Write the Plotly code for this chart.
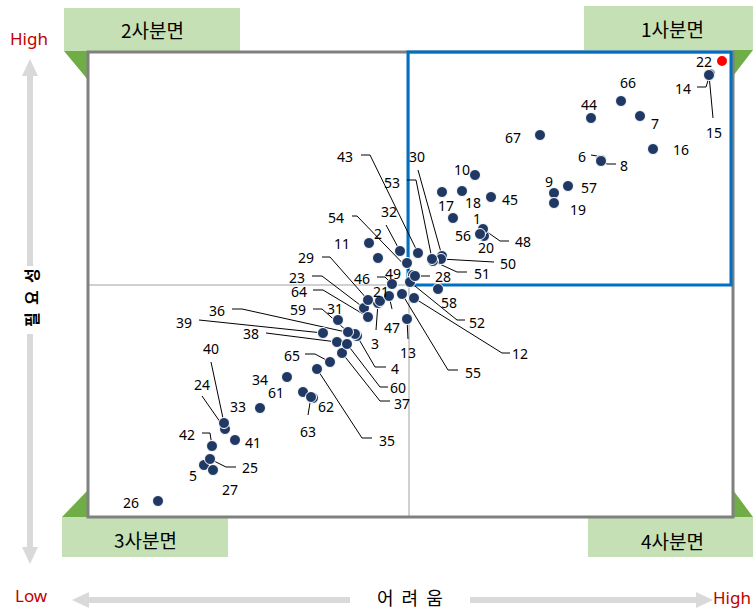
import plotly.graph_objects as go

# ---------------- data ----------------
ids = [str(i) for i in range(1, 68)]
difficulty = [453, 378, 378, 357, 204, 601, 640, 601, 554, 475,
              369, 414, 407, 710, 709, 653, 442, 462, 554, 484,
              380, 722, 364, 225, 210, 158, 213, 413, 368, 442,
              338, 400, 260, 287, 317, 355, 342, 337, 323, 224,
              235, 212, 418, 591, 491, 392, 389, 483, 407, 441,
              433, 410, 432, 415, 402, 480, 568, 438, 348, 347,
              303, 313, 311, 368, 330, 621, 540]
necessity = [392, 352, 307, 274, 145, 450, 494, 449, 417, 435,
             367, 312, 291, 536, 535, 461, 418, 419, 407, 374,
             309, 549, 302, 181, 151, 109, 140, 335, 310, 354,
             290, 359, 202, 233, 241, 276, 257, 268, 277, 187,
             170, 164, 357, 492, 413, 326, 314, 381, 347, 351,
             349, 328, 351, 334, 316, 376, 424, 321, 278, 266,
             218, 212, 213, 293, 248, 509, 475]
highlight_id = "22"
quadrant_names = ["1사분면", "2사분면", "3사분면", "4사분면"]
x_title = ["어", "려", "움"]
y_title = ["필", "요", "성"]

# ---------------- geometry (screen pixels) ----------------
W, H = 753, 610
L, R, T, B = 88, 733, 52, 517
X_MID, Y_MID = 409, 285
Y0 = 610  # data y = Y0 - screen y

def sx(px):
    return (px - L) / (R - L)

def sy(py):
    return (B - py) / (B - T)

label_xy = {
    1: (477, 218), 2: (378, 233), 3: (375, 343), 4: (395, 368), 5: (193, 475),
    6: (582, 156), 7: (655, 123), 8: (624, 165), 9: (549, 181), 10: (462, 169),
    11: (342, 243), 12: (520, 353), 13: (408, 352), 14: (683, 88), 15: (714, 132),
    16: (681, 149), 17: (446, 205), 18: (473, 202), 19: (578, 209), 20: (486, 247),
    21: (381, 291), 22: (704, 61), 23: (297, 277), 24: (202, 384), 25: (250, 467),
    26: (131, 502), 27: (230, 489), 28: (443, 276), 29: (306, 257), 30: (417, 156),
    31: (335, 308), 32: (389, 211), 33: (238, 406), 34: (260, 379), 35: (387, 440),
    36: (217, 310), 37: (402, 403), 38: (251, 333), 39: (184, 322), 40: (211, 348),
    41: (253, 442), 42: (187, 434), 43: (345, 156), 44: (589, 104), 45: (510, 199),
    46: (362, 278), 47: (392, 327), 48: (523, 241), 49: (393, 273), 50: (508, 263),
    51: (482, 273), 52: (477, 322), 53: (392, 182), 54: (336, 217), 55: (473, 372),
    56: (463, 235), 57: (589, 187), 58: (449, 302), 59: (298, 309), 60: (398, 387),
    61: (276, 392), 62: (326, 406), 63: (308, 431), 64: (299, 291), 65: (292, 355),
    66: (628, 82), 67: (513, 137),
}

leaders = {
    3: [(376, 330)], 4: [(386, 367), (375, 367)], 6: [(591, 155), (597, 156)],
    8: [(616, 164), (607, 164)], 12: [(510, 353), (502, 353)], 13: [(408, 339)],
    14: [(697, 87), (706, 87)], 15: [(713, 118)], 23: [(312, 276), (322, 276)],
    24: [(202, 396)], 25: [(236, 467), (226, 467)], 28: [(430, 276), (421, 276)],
    29: [(322, 257), (330, 257)], 30: [(418, 170)], 32: [(386, 225)],
    35: [(372, 438), (362, 438)], 36: [(232, 309), (242, 309)],
    37: [(390, 401), (380, 401)], 38: [(266, 333)], 39: [(199, 320)],
    40: [(211, 362)], 42: [(202, 433), (210, 433)], 43: [(361, 155), (370, 155)],
    46: [(377, 277), (385, 277)], 47: [(392, 309)], 48: [(509, 241), (500, 241)],
    50: [(494, 262)], 51: [(467, 272), (457, 272)], 52: [(465, 320), (457, 320)],
    53: [(407, 180), (416, 180)], 54: [(352, 216), (357, 216)],
    55: [(458, 370), (448, 370)], 59: [(313, 309), (322, 309)],
    60: [(388, 387), (380, 387)], 63: [(308, 415)], 64: [(313, 290), (323, 290)],
    65: [(305, 354), (315, 354)],
}

NAVY = "#1F3864"
GRAY_ARROW = "#D9D9D9"
GREEN_BOX = "#C5E0B4"
GREEN_TRI = "#70AD47"
RED_TXT = "#C00000"
BLUE = "#0070C0"
NUM_FONT = "Noto Sans"
KR_FONT = "Noto Sans CJK KR"

fig = go.Figure()

# leader lines
lx, ly = [], []
for k, verts in leaders.items():
    i = k - 1
    for (px, py) in verts:
        lx.append(px)
        ly.append(Y0 - py)
    lx.append(difficulty[i])
    ly.append(necessity[i])
    lx.append(None)
    ly.append(None)
fig.add_trace(go.Scatter(x=lx, y=ly, mode="lines",
                         line=dict(color="black", width=1),
                         hoverinfo="skip", cliponaxis=False))

# points
colors = ["#FF0000" if s == highlight_id else NAVY for s in ids]
lw = [2 if s == highlight_id else 1 for s in ids]
sizes = [12 if s == highlight_id else 11 for s in ids]
fig.add_trace(go.Scatter(x=difficulty, y=necessity, mode="markers",
                         marker=dict(color=colors, size=sizes, opacity=1,
                                     line=dict(color="white", width=lw)),
                         text=ids, hoverinfo="text", cliponaxis=False))

shapes = []
# green label boxes
boxes = [(584, 6, 753, 50), (64, 8, 240, 51), (62, 517, 228, 557), (588, 517, 753, 557)]
for (x0, y0, x1, y1) in boxes:
    shapes.append(dict(type="rect", xref="paper", yref="paper",
                       x0=sx(x0), x1=sx(x1), y0=sy(y1), y1=sy(y0),
                       fillcolor=GREEN_BOX, line=dict(width=0), layer="below"))

def tri(pts, color):
    d = "M " + " L ".join(f"{sx(a):.5f},{sy(b):.5f}" for a, b in pts) + " Z"
    return dict(type="path", xref="paper", yref="paper", path=d,
                fillcolor=color, line=dict(width=0), layer="below")

shapes += [
    tri([(64, 51), (88, 51), (88, 80)], GREEN_TRI),
    tri([(733, 50), (753, 50), (733, 76)], GREEN_TRI),
    tri([(62, 517), (88, 517), (88, 490)], GREEN_TRI),
    tri([(733, 517), (753, 517), (733, 490)], GREEN_TRI),
]

# mid lines
shapes.append(dict(type="line", xref="paper", yref="paper",
                   x0=sx(X_MID), x1=sx(X_MID), y0=0, y1=1,
                   line=dict(color="#D0D0D0", width=2), layer="below"))
shapes.append(dict(type="line", xref="paper", yref="paper",
                   x0=0, x1=1, y0=sy(Y_MID), y1=sy(Y_MID),
                   line=dict(color="#D0D0D0", width=2), layer="below"))
# frame
shapes.append(dict(type="rect", xref="paper", yref="paper", x0=0, x1=1, y0=0, y1=1,
                   line=dict(color="#808080", width=3), layer="below"))
# blue quadrant box
shapes.append(dict(type="rect", xref="paper", yref="paper",
                   x0=sx(408), x1=sx(731), y0=sy(285), y1=sy(52),
                   line=dict(color=BLUE, width=3), layer="below"))

# gray arrows
def seg(x0, y0, x1, y1):
    return dict(type="line", xref="paper", yref="paper",
                x0=sx(x0), y0=sy(y0), x1=sx(x1), y1=sy(y1),
                line=dict(color=GRAY_ARROW, width=6), layer="below")

shapes += [
    seg(30, 266, 30, 74), tri([(22, 76), (38, 76), (30, 59)], GRAY_ARROW),
    seg(30, 334, 30, 549), tri([(22, 547), (38, 547), (30, 564)], GRAY_ARROW),
    seg(350, 600, 87, 600), tri([(89, 592), (89, 608), (72, 600)], GRAY_ARROW),
    seg(470, 600, 698, 600), tri([(696, 592), (696, 608), (713, 600)], GRAY_ARROW),
]

ann = []
# point labels
for k, (px, py) in label_xy.items():
    ann.append(dict(x=px, y=Y0 - py, xref="x", yref="y", text=str(k),
                    showarrow=False, xanchor="center", yanchor="middle",
                    font=dict(family=NUM_FONT, size=14, color="black")))

def ptext(px, py, text, size, color="black", angle=0, family=KR_FONT):
    return dict(x=sx(px), y=sy(py), xref="paper", yref="paper", text=text,
                showarrow=False, xanchor="center", yanchor="middle",
                textangle=angle, font=dict(family=family, size=size, color=color))

SP = "\u00a0\u00a0"
ann += [
    ptext(672, 28, quadrant_names[0], 19),
    ptext(152, 30, quadrant_names[1], 19),
    ptext(145, 539, quadrant_names[2], 19),
    ptext(672, 540, quadrant_names[3], 19),
    ptext(29, 38, "High", 17, RED_TXT, family=NUM_FONT),
    ptext(31, 595, "Low", 17, RED_TXT, family=NUM_FONT),
    ptext(732, 597, "High", 17, RED_TXT, family=NUM_FONT),
    ptext(410, 597, SP.join(x_title), 18),
    ptext(31, 298, "<b>" + SP.join(y_title) + "</b>", 16, angle=-90),
]

fig.update_layout(
    width=W, height=H, autosize=False,
    margin=dict(l=L, r=W - R, t=T, b=H - B),
    paper_bgcolor="white", plot_bgcolor="white",
    showlegend=False, shapes=shapes, annotations=ann,
    xaxis=dict(range=[L, R], visible=False, fixedrange=True),
    yaxis=dict(range=[Y0 - B, Y0 - T], visible=False, fixedrange=True),
)

fig.write_html("out.html", config={"displayModeBar": False},
               post_script="document.body.style.margin='0px';document.body.style.padding='0px';")
